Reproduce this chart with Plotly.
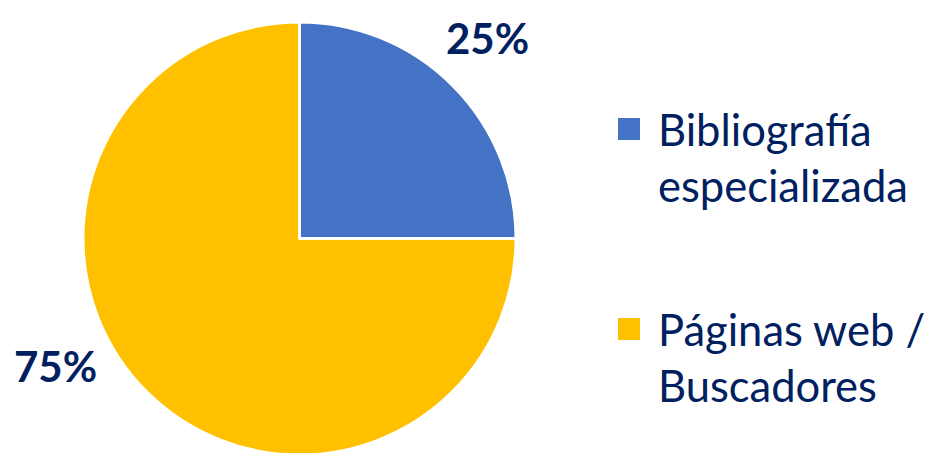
import plotly.graph_objects as go

labels = ["Bibliografía especializada", "Páginas web / Buscadores"]
legend_lines = [["Bibliografía", "especializada"], ["Páginas web /", "Buscadores"]]
values = [25, 75]
pct_text = ["25%", "75%"]
colors = ["#4472C4", "#FFC000"]
navy = "#002060"
FONT = "Lato"

W, H = 932, 453
OFF = 8  # page body margin
cx, cy, r = 299.5 - OFF, 238.5 - OFF, 216.5

fig = go.Figure(go.Pie(
    labels=labels, values=values, sort=False, direction="clockwise", rotation=0,
    marker=dict(colors=colors, line=dict(color="white", width=3)),
    textinfo="none", hoverinfo="label+percent", showlegend=False,
    domain=dict(x=[(cx - r) / W, (cx + r) / W], y=[(H - cy - r) / H, (H - cy + r) / H]),
))


def px(x, y):
    return (x - OFF) / W, 1 - (y - OFF) / H


ann = []
pct_pos = [(487, 38), (55, 366)]
for t, (x, y) in zip(pct_text, pct_pos):
    X, Y = px(x, y)
    ann.append(dict(x=X, y=Y, xref="paper", yref="paper", text=t, showarrow=False,
                    font=dict(family=FONT, size=42, color=navy, weight="bold"),
                    xanchor="center", yanchor="middle"))

shapes = []
leg_y = [129, 329]
line_gap = 56
for lines, col, y0 in zip(legend_lines, colors, leg_y):
    X0, Y0 = px(618, y0 - 11)
    X1, Y1 = px(640, y0 + 11)
    shapes.append(dict(type="rect", xref="paper", yref="paper",
                       x0=X0, x1=X1, y0=Y0, y1=Y1,
                       fillcolor=col, line=dict(width=0)))
    for i, ln in enumerate(lines):
        X, Y = px(656, y0 + i * line_gap)
        ann.append(dict(x=X, y=Y, xref="paper", yref="paper",
                        text=ln, showarrow=False, xanchor="left", yanchor="middle",
                        font=dict(family=FONT, size=43.5, color=navy)))

fig.update_layout(width=W, height=H, margin=dict(l=0, r=0, t=0, b=0),
                  paper_bgcolor="white", plot_bgcolor="white",
                  annotations=ann, shapes=shapes)
fig.write_html("out.html")
